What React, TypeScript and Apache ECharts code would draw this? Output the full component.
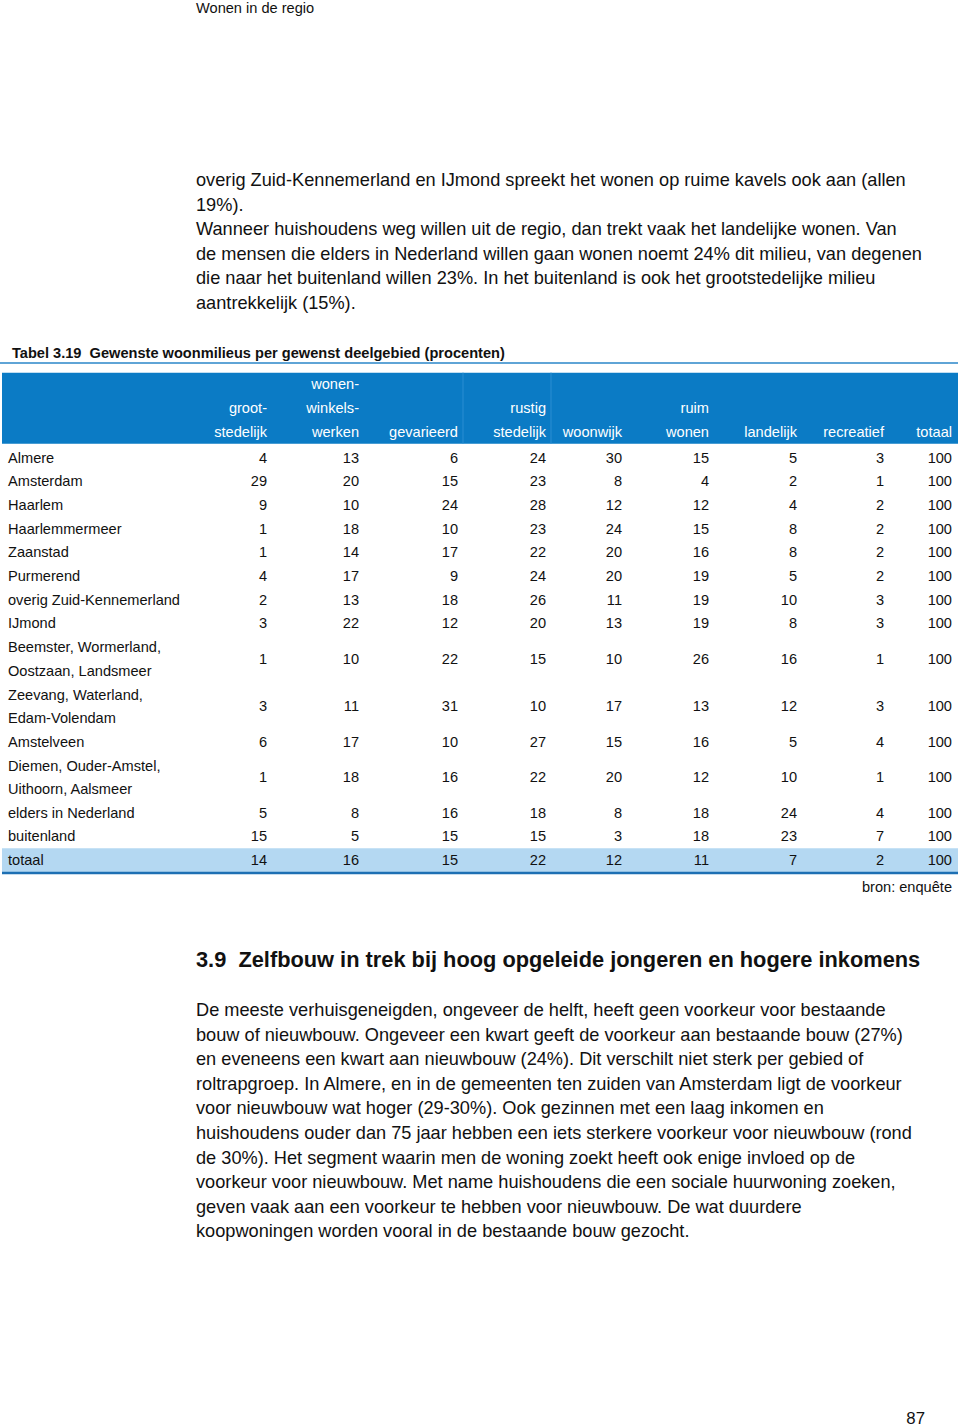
import React, { useEffect, useRef } from "react";
import * as echarts from "echarts";

// ---------- DATA ----------
const columns = [
  "groot-\nstedelijk",
  "wonen-\nwinkels-\nwerken",
  "gevarieerd",
  "rustig\nstedelijk",
  "woonwijk",
  "ruim\nwonen",
  "landelijk",
  "recreatief",
  "totaal",
];

const regions = [
  "Almere",
  "Amsterdam",
  "Haarlem",
  "Haarlemmermeer",
  "Zaanstad",
  "Purmerend",
  "overig Zuid-Kennemerland",
  "IJmond",
  "Beemster, Wormerland,\nOostzaan, Landsmeer",
  "Zeevang, Waterland,\nEdam-Volendam",
  "Amstelveen",
  "Diemen, Ouder-Amstel,\nUithoorn, Aalsmeer",
  "elders in Nederland",
  "buitenland",
  "totaal",
];

const grootstedelijk = [4, 29, 9, 1, 1, 4, 2, 3, 1, 3, 6, 1, 5, 15, 14];
const wonenWinkelsWerken = [13, 20, 10, 18, 14, 17, 13, 22, 10, 11, 17, 18, 8, 5, 16];
const gevarieerd = [6, 15, 24, 10, 17, 9, 18, 12, 22, 31, 10, 16, 16, 15, 15];
const rustigStedelijk = [24, 23, 28, 23, 22, 24, 26, 20, 15, 10, 27, 22, 18, 15, 22];
const woonwijk = [30, 8, 12, 24, 20, 20, 11, 13, 10, 17, 15, 20, 8, 3, 12];
const ruimWonen = [15, 4, 12, 15, 16, 19, 19, 19, 26, 13, 16, 12, 18, 18, 11];
const landelijk = [5, 2, 4, 8, 8, 5, 10, 8, 16, 12, 5, 10, 24, 23, 7];
const recreatief = [3, 1, 2, 2, 2, 2, 3, 3, 1, 3, 4, 1, 4, 7, 2];
const totaal = [100, 100, 100, 100, 100, 100, 100, 100, 100, 100, 100, 100, 100, 100, 100];

const columnValues = [
  grootstedelijk,
  wonenWinkelsWerken,
  gevarieerd,
  rustigStedelijk,
  woonwijk,
  ruimWonen,
  landelijk,
  recreatief,
  totaal,
];

const pageHeader = "Wonen in de regio";
const paragraph1 = [
  "overig Zuid-Kennemerland en IJmond spreekt het wonen op ruime kavels ook aan (allen",
  "19%).",
  "Wanneer huishoudens weg willen uit de regio, dan trekt vaak het landelijke wonen. Van",
  "de mensen die elders in Nederland willen gaan wonen noemt 24% dit milieu, van degenen",
  "die naar het buitenland willen 23%. In het buitenland is ook het grootstedelijke milieu",
  "aantrekkelijk (15%).",
];
const tableTitle = "Tabel 3.19  Gewenste woonmilieus per gewenst deelgebied (procenten)";
const sourceNote = "bron: enquête";
const sectionHeading = "3.9  Zelfbouw in trek bij hoog opgeleide jongeren en hogere inkomens";
const paragraph2 = [
  "De meeste verhuisgeneigden, ongeveer de helft, heeft geen voorkeur voor bestaande",
  "bouw of nieuwbouw. Ongeveer een kwart geeft de voorkeur aan bestaande bouw (27%)",
  "en eveneens een kwart aan nieuwbouw (24%). Dit verschilt niet sterk per gebied of",
  "roltrapgroep. In Almere, en in de gemeenten ten zuiden van Amsterdam ligt de voorkeur",
  "voor nieuwbouw wat hoger (29-30%). Ook gezinnen met een laag inkomen en",
  "huishoudens ouder dan 75 jaar hebben een iets sterkere voorkeur voor nieuwbouw (rond",
  "de 30%). Het segment waarin men de woning zoekt heeft ook enige invloed op de",
  "voorkeur voor nieuwbouw. Met name huishoudens die een sociale huurwoning zoeken,",
  "geven vaak aan een voorkeur te hebben voor nieuwbouw. De wat duurdere",
  "koopwoningen worden vooral in de bestaande bouw gezocht.",
];
const pageNumber = "87";

// ---------- LAYOUT ----------
const FONT = "'Liberation Sans', Arial, Helvetica, sans-serif";
const HEADER_BLUE = "#0b7bc5";
const TOTAL_BG = "#b4d8f2";
const LINE_BLUE = "#1d6fb3";
const TEXT = "#111111";
const TABLE_FS = 14.6;
const BODY_FS = 18.2;
const COL_WIDTHS = [182, 90, 92, 99, 88, 76, 87, 88, 87, 68]; // name column + 9 value columns
const CELL_PAD = 5;
const TABLE_X0 = 2;
const TABLE_X1 = 958;
const HEADER_UNITS = 3.1;

const colRight: number[] = [];
{
  let acc = 0;
  COL_WIDTHS.forEach((w) => {
    acc += w;
    colRight.push(acc);
  });
}
const rowLines = regions.map((r) => r.split("\n").length);
const rowStart: number[] = [];
{
  let acc = 0;
  rowLines.forEach((n) => {
    rowStart.push(acc);
    acc += n;
  });
}
const totalUnits = rowLines.reduce((a, b) => a + b, 0);
const rowCenter = rowStart.map((s, i) => s + rowLines[i] / 2);

export default function App() {
  const ref = useRef<HTMLDivElement>(null);

  useEffect(() => {
    if (!ref.current) return;
    const chart = echarts.init(ref.current, undefined, { renderer: "svg" });

    const cellData: any[] = [];
    columnValues.forEach((vals, c) => {
      vals.forEach((v, r) => {
        cellData.push([colRight[c + 1] - CELL_PAD, rowCenter[r], v]);
      });
    });

    const nameData = regions.map((name, r) => [8, rowCenter[r], r]);
    const headerData = columns.map((_, c) => [colRight[c + 1] - CELL_PAD, 0, c]);

    const textEl = (x: number, y: number, text: string, opts: any) => ({
      type: "text",
      x,
      y,
      style: {
        text,
        fill: opts.fill || TEXT,
        fontSize: opts.fontSize || TABLE_FS,
        fontFamily: FONT,
        fontWeight: opts.fontWeight || "normal",
        align: opts.align || "left",
        verticalAlign: opts.verticalAlign || "middle",
        lineHeight: opts.lineHeight,
      },
    });

    const option: any = {
      animation: false,
      backgroundColor: "#ffffff",
      grid: { left: 0, right: 0, top: 446 - HEADER_UNITS * 23.667, bottom: 1428 - 872, containLabel: false },
      xAxis: { type: "value", min: 0, max: 960, show: false },
      yAxis: { type: "value", min: -HEADER_UNITS, max: totalUnits, inverse: true, show: false },
      graphic: [
        textEl(196, 8, pageHeader, { fontSize: TABLE_FS }),
        {
          type: "text",
          x: 196,
          y: 180 - 12.3,
          style: {
            text: paragraph1.join("\n"),
            fill: TEXT,
            fontSize: BODY_FS,
            fontFamily: FONT,
            lineHeight: 24.6,
            align: "left",
            verticalAlign: "top",
          },
        },
        textEl(12, 353, tableTitle, { fontSize: 14.6, fontWeight: "bold" }),
        {
          type: "line",
          shape: { x1: 0, y1: 363, x2: 958, y2: 363 },
          style: { stroke: "#2a86c8", lineWidth: 1.6 },
        },
        textEl(952, 887, sourceNote, { fontSize: TABLE_FS, align: "right" }),
        textEl(196, 959, sectionHeading, { fontSize: 21.8, fontWeight: "bold" }),
        {
          type: "text",
          x: 196,
          y: 1010 - 12.3,
          style: {
            text: paragraph2.join("\n"),
            fill: TEXT,
            fontSize: BODY_FS,
            fontFamily: FONT,
            lineHeight: 24.6,
            align: "left",
            verticalAlign: "top",
          },
        },
        textEl(925, 1418, pageNumber, { fontSize: 16.8, align: "right" }),
      ],
      series: [
        {
          // header background + total row background + bottom rule
          type: "custom",
          z: 1,
          clip: false,
          silent: true,
          data: [[TABLE_X0, -HEADER_UNITS]],
          renderItem: (params: any, api: any) => {
            const hTop = api.coord([TABLE_X0, -HEADER_UNITS]);
            const hBot = api.coord([TABLE_X1, -0.1]);
            const lastStart = rowStart[rowStart.length - 1];
            const tTop = api.coord([TABLE_X0, lastStart]);
            const tBot = api.coord([TABLE_X1, totalUnits]);
            const sep1 = api.coord([colRight[3], 0]);
            const sep2 = api.coord([colRight[4], 0]);
            return {
              type: "group",
              children: [
                {
                  type: "rect",
                  shape: { x: hTop[0], y: hTop[1], width: hBot[0] - hTop[0], height: hBot[1] - hTop[1] },
                  style: { fill: HEADER_BLUE },
                },
                {
                  type: "line",
                  shape: { x1: sep1[0], y1: hTop[1], x2: sep1[0], y2: hBot[1] },
                  style: { stroke: "#2b8ed2", lineWidth: 1 },
                },
                {
                  type: "line",
                  shape: { x1: sep2[0], y1: hTop[1], x2: sep2[0], y2: hBot[1] },
                  style: { stroke: "#2b8ed2", lineWidth: 1 },
                },
                {
                  type: "rect",
                  shape: { x: tTop[0], y: tTop[1], width: tBot[0] - tTop[0], height: tBot[1] - tTop[1] },
                  style: { fill: TOTAL_BG },
                },
                {
                  type: "line",
                  shape: { x1: tTop[0], y1: tBot[1] + 1, x2: tBot[0], y2: tBot[1] + 1 },
                  style: { stroke: LINE_BLUE, lineWidth: 2.4 },
                },
              ],
            };
          },
        },
        {
          // column headers
          type: "custom",
          z: 3,
          clip: false,
          silent: true,
          data: headerData,
          renderItem: (params: any, api: any) => {
            const p = api.coord([api.value(0), api.value(1)]);
            const unit = api.size([0, 1])[1];
            return {
              type: "text",
              x: p[0],
              y: p[1] - 0.1 * unit,
              style: {
                text: columns[api.value(2)],
                fill: "#ffffff",
                fontSize: TABLE_FS,
                fontFamily: FONT,
                align: "right",
                verticalAlign: "bottom",
                lineHeight: unit,
              },
            };
          },
        },
        {
          // row labels
          type: "custom",
          z: 3,
          clip: false,
          silent: true,
          data: nameData,
          renderItem: (params: any, api: any) => {
            const p = api.coord([api.value(0), api.value(1)]);
            const unit = api.size([0, 1])[1];
            return {
              type: "text",
              x: p[0],
              y: p[1],
              style: {
                text: regions[api.value(2)],
                fill: TEXT,
                fontSize: TABLE_FS,
                fontFamily: FONT,
                align: "left",
                verticalAlign: "middle",
                lineHeight: unit,
              },
            };
          },
        },
        {
          // value cells
          type: "custom",
          z: 3,
          clip: false,
          silent: true,
          data: cellData,
          renderItem: (params: any, api: any) => {
            const p = api.coord([api.value(0), api.value(1)]);
            return {
              type: "text",
              x: p[0],
              y: p[1],
              style: {
                text: String(api.value(2)),
                fill: TEXT,
                fontSize: TABLE_FS,
                fontFamily: FONT,
                align: "right",
                verticalAlign: "middle",
              },
            };
          },
        },
      ],
    };

    chart.setOption(option);
    return () => chart.dispose();
  }, []);

  return (
    <div
      ref={ref}
      style={{ position: "absolute", left: 0, top: 0, width: 960, height: 1428, background: "#fff" }}
    />
  );
}
